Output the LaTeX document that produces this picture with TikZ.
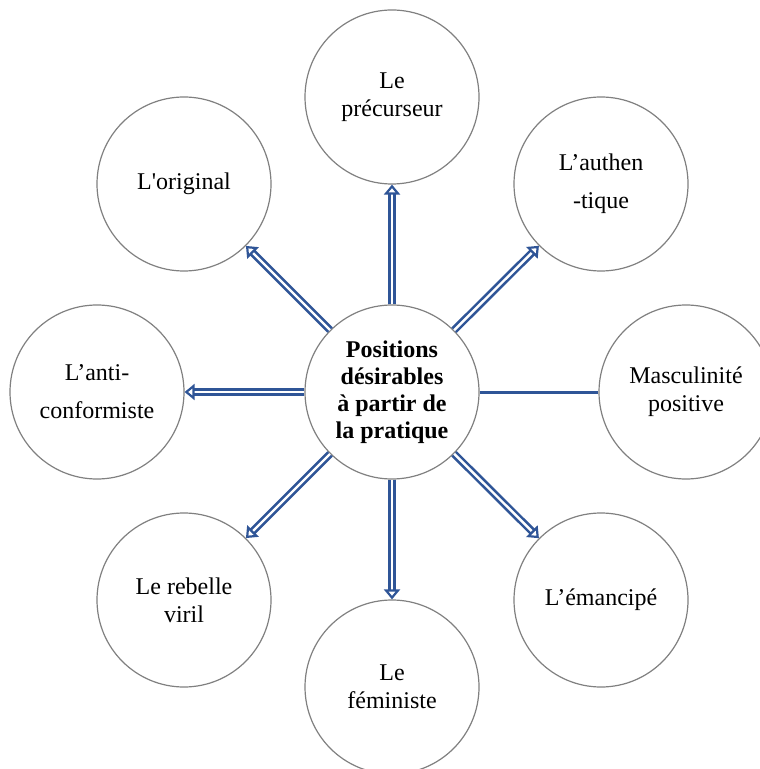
\documentclass[tikz,border=0pt]{standalone}
\usepackage{fontspec}
\setmainfont{Liberation Serif}
\usetikzlibrary{arrows.meta}
\definecolor{arrblue}{RGB}{47,85,151}
\definecolor{ringgray}{RGB}{128,128,128}
\begin{document}
\begin{tikzpicture}[x=0.5pt,y=-0.5pt,
  bubble/.style={circle, draw=ringgray, line width=0.6pt, minimum size=87pt, inner sep=0pt, align=center, font=\fontsize{12}{14}\selectfont},
  hub/.style={bubble, font=\fontsize{12}{13.5}\selectfont\bfseries},
  dbl/.style={draw=arrblue, line width=1.3pt, double=white, double distance=1.2pt, -{Triangle[open, line width=1.1pt, length=5pt, width=8pt]}},
  plainlink/.style={draw=arrblue, line width=1.5pt}]
\useasboundingbox (0,0) rectangle (759,769);
\node[hub] (c) at (392,392) {Positions\\désirables\\à partir de\\la pratique};
\node[bubble] (n) at (392,97) {Le\\précurseur};
\node[bubble] (ne) at (601,184) {L’authen\\[5pt]-tique};
\node[bubble] (e) at (686,392) {Masculinité\\positive};
\node[bubble] (se) at (601,600) {L’émancipé};
\node[bubble] (s) at (392,687) {Le\\féministe};
\node[bubble] (sw) at (184,600) {Le rebelle\\viril};
\node[bubble] (w) at (97,392) {L’anti-\\[5pt]conformiste};
\node[bubble] (nw) at (184,184) {L\textquotesingle original};
\draw[dbl] (c) -- (n);
\draw[dbl] (c) -- (ne);
\draw[plainlink] (c) -- (e);
\draw[dbl] (c) -- (se);
\draw[dbl] (c) -- (s);
\draw[dbl] (c) -- (sw);
\draw[dbl] (c) -- (w);
\draw[dbl] (c) -- (nw);
\end{tikzpicture}
\end{document}
